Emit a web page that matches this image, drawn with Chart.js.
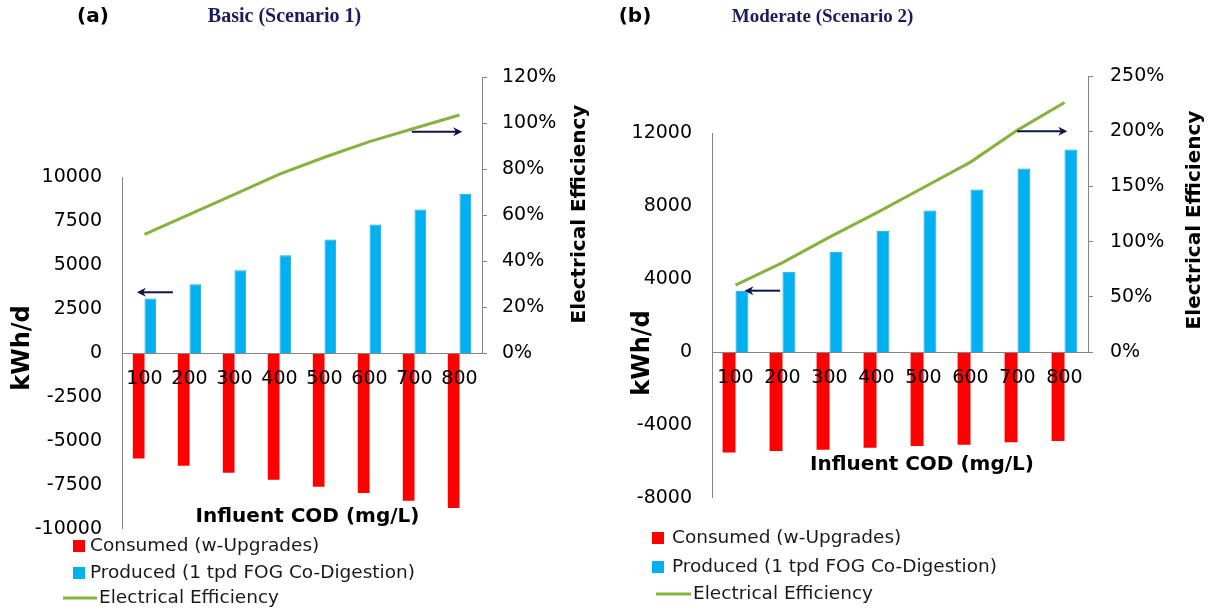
<!DOCTYPE html>
<html>
<head>
<meta charset="utf-8">
<title>Energy balance vs influent COD</title>
<script src="https://cdn.jsdelivr.net/npm/chart.js@4.4.1/dist/chart.umd.min.js"></script>
<style>
  html, body { margin: 0; padding: 0; background: #ffffff; }
  #wrap { position: relative; width: 1213px; height: 613px; overflow: hidden; }
  canvas { position: absolute; top: 0; }
  #chartA { left: 0; }
  #chartB { left: 606px; }
</style>
</head>
<body>
<div id="wrap">
  <canvas id="chartA" width="606" height="613"></canvas>
  <canvas id="chartB" width="607" height="613"></canvas>
</div>
<script>
// ---- data ----------------------------------------------------------------
// Influent COD levels (mg/L), shared by both scenarios
const codLevels = ['100', '200', '300', '400', '500', '600', '700', '800'];

// Scenario 1 - Basic
const consumedBasic   = [-6000, -6400, -6800, -7200, -7600, -7950, -8400, -8800];
const producedBasic   = [3100, 3900, 4700, 5550, 6450, 7300, 8150, 9050];
const efficiencyBasic = [51.6, 60.3, 69.0, 77.8, 85.1, 91.9, 97.7, 103.5];

// Scenario 2 - Moderate
const consumedModerate   = [-5500, -5420, -5350, -5250, -5150, -5080, -4950, -4880];
const producedModerate   = [3350, 4400, 5500, 6650, 7750, 8900, 10050, 11100];
const efficiencyModerate = [60.5, 81, 104, 126, 149, 172, 201, 226];

// Axis tick values
const energyTicksBasic     = [-10000, -7500, -5000, -2500, 0, 2500, 5000, 7500, 10000];
const percentTicksBasic    = [0, 20, 40, 60, 80, 100, 120];
const energyTicksModerate  = [-8000, -4000, 0, 4000, 8000, 12000];
const percentTicksModerate = [0, 50, 100, 150, 200, 250];

// Labels
const seriesNames = ['Consumed (w-Upgrades)', 'Produced (1 tpd FOG Co-Digestion)', 'Electrical Efficiency'];
const energyTitle = 'kWh/d';
const efficiencyTitle = 'Electrical Efficiency';
const codTitle = 'Influent COD (mg/L)';

// ---- styling -------------------------------------------------------------
const RED = '#ff0000';
const BLUE = '#00b0f0';
const GREEN = '#86b33e';
const NAVY = '#0e1547';
const HEAD_NAVY = '#1b1d5a';
const AXIS_GREY = '#858585';
const SANS = '"DejaVu Sans", "Noto Sans", sans-serif';
const SERIF = '"Liberation Serif", "DejaVu Serif", serif';

// ---- panel layouts (canvas-local pixels) ---------------------------------
const panels = [
  {
    canvas: 'chartA', width: 606, tag: '(a)', heading: 'Basic (Scenario 1)', headingSize: 20,
    consumed: consumedBasic, produced: producedBasic, efficiency: efficiencyBasic,
    energyTicks: energyTicksBasic, percentTicks: percentTicksBasic,
    area: { left: 122, right: 482, top: 77, bottom: 529 }, energyTopPx: 177,
    barShare: 0.52, rightPad: 15,
    tagPos: [93, 17], headingPos: [284.5, 17],
    energyTitlePos: [23, 348], efficiencyTitlePos: [580, 214], codTitlePos: [307.5, 517],
    legend: { box: 73, text: 90, lineFrom: 63, lineTo: 97, lineText: 99, rows: [546, 573, 598] },
    // arrows: which axis the height is read on, and category span (tail -> head)
    arrows: [
      { axis: 'y',  value: 3450, from: 0.63, to: -0.17 },
      { axis: 'y1', value: 96.2, from: 5.94, to: 7.06 }
    ]
  },
  {
    canvas: 'chartB', width: 607, tag: '(b)', heading: 'Moderate (Scenario 2)', headingSize: 19,
    consumed: consumedModerate, produced: producedModerate, efficiency: efficiencyModerate,
    energyTicks: energyTicksModerate, percentTicks: percentTicksModerate,
    area: { left: 106, right: 482, top: 76, bottom: 498 }, energyTopPx: 133,
    barShare: 0.55, rightPad: 17,
    tagPos: [29, 17], headingPos: [216.5, 17],
    energyTitlePos: [37, 353], efficiencyTitlePos: [589, 220], codTitlePos: [316, 465],
    legend: { box: 46, text: 66, lineFrom: 50, lineTo: 85, lineText: 87, rows: [538, 567, 594] },
    arrows: [
      { axis: 'y',  value: 3360, from: 0.95, to: 0.19 },
      { axis: 'y1', value: 200,  from: 5.99, to: 7.06 }
    ]
  }
];

// Axis extents: the energy axis reaches above its top tick and the percent
// axis reaches below 0% so both share one plot area.
function axisRanges(p) {
  const eMin = p.energyTicks[0];
  const eTop = p.energyTicks[p.energyTicks.length - 1];
  const span = p.area.bottom - p.area.top;
  const tickSpan = p.area.bottom - p.energyTopPx;
  const eMax = eMin + (eTop - eMin) * span / tickSpan;
  const zeroPx = p.area.bottom - (0 - eMin) / (eTop - eMin) * tickSpan;
  const pMax = p.percentTicks[p.percentTicks.length - 1];
  const pMin = -pMax * (p.area.bottom - zeroPx) / (zeroPx - p.area.top);
  return { eMin, eMax, pMin, pMax };
}

function drawArrow(ctx, x1, y, x2) {
  const dir = Math.sign(x2 - x1);
  const head = 9, half = 4.5;
  ctx.save();
  ctx.strokeStyle = NAVY; ctx.fillStyle = NAVY; ctx.lineWidth = 2;
  ctx.beginPath(); ctx.moveTo(x1, y); ctx.lineTo(x2 - dir * head * 0.6, y); ctx.stroke();
  ctx.beginPath();
  ctx.moveTo(x2, y);
  ctx.lineTo(x2 - dir * head, y - half);
  ctx.lineTo(x2 - dir * head * 0.7, y);
  ctx.lineTo(x2 - dir * head, y + half);
  ctx.closePath(); ctx.fill();
  ctx.restore();
}

function rotatedText(ctx, text, x, y, font) {
  ctx.save();
  ctx.translate(x, y); ctx.rotate(-Math.PI / 2);
  ctx.font = font; ctx.fillStyle = '#000'; ctx.textAlign = 'center'; ctx.textBaseline = 'middle';
  ctx.fillText(text, 0, 0);
  ctx.restore();
}

function makeDecor(p) {
  return {
    id: 'panelDecor',
    beforeDatasetsDraw(chart) {
      const { ctx, chartArea, scales } = chart;
      ctx.save();
      ctx.strokeStyle = AXIS_GREY; ctx.lineWidth = 1;
      // energy axis line, from lowest to highest tick
      const xl = Math.round(chartArea.left) + 0.5;
      ctx.beginPath();
      ctx.moveTo(xl, scales.y.getPixelForValue(p.energyTicks[0]));
      ctx.lineTo(xl, scales.y.getPixelForValue(p.energyTicks[p.energyTicks.length - 1]));
      ctx.stroke();
      // efficiency axis line, 0% to top tick
      const xr = Math.round(chartArea.right) + 0.5;
      ctx.beginPath();
      ctx.moveTo(xr, scales.y1.getPixelForValue(0));
      ctx.lineTo(xr, scales.y1.getPixelForValue(p.percentTicks[p.percentTicks.length - 1]));
      ctx.stroke();
      ctx.restore();
    },
    afterDatasetsDraw(chart) {
      const { ctx, scales } = chart;
      p.arrows.forEach(a => {
        const y = scales[a.axis].getPixelForValue(a.value);
        drawArrow(ctx, scales.x.getPixelForValue(a.from), y, scales.x.getPixelForValue(a.to));
      });
    },
    afterDraw(chart) {
      const { ctx } = chart;
      ctx.save();
      // panel tag and heading
      ctx.textBaseline = 'middle'; ctx.textAlign = 'center';
      ctx.fillStyle = '#000'; ctx.font = 'bold 20px ' + SANS;
      ctx.fillText(p.tag, p.tagPos[0], p.tagPos[1]);
      ctx.fillStyle = HEAD_NAVY; ctx.font = 'bold ' + p.headingSize + 'px ' + SERIF;
      ctx.fillText(p.heading, p.headingPos[0], p.headingPos[1]);
      // axis titles
      rotatedText(ctx, energyTitle, p.energyTitlePos[0], p.energyTitlePos[1], 'bold 24px ' + SANS);
      rotatedText(ctx, efficiencyTitle, p.efficiencyTitlePos[0], p.efficiencyTitlePos[1], 'bold 20px ' + SANS);
      ctx.fillStyle = '#000'; ctx.font = 'bold 20px ' + SANS; ctx.textAlign = 'center';
      ctx.fillText(codTitle, p.codTitlePos[0], p.codTitlePos[1]);
      // legend
      const L = p.legend;
      ctx.font = '18.5px ' + SANS; ctx.textAlign = 'left'; ctx.fillStyle = '#1a1a1a';
      chart.data.datasets.forEach((ds, i) => {
        const y = L.rows[i];
        if (ds.type === 'line') {
          ctx.strokeStyle = ds.borderColor; ctx.lineWidth = 3;
          ctx.beginPath(); ctx.moveTo(L.lineFrom, y); ctx.lineTo(L.lineTo, y); ctx.stroke();
          ctx.fillStyle = '#1a1a1a';
          ctx.fillText(ds.label, L.lineText, y);
        } else {
          ctx.fillStyle = ds.backgroundColor;
          ctx.fillRect(L.box, y - 6, 12, 12);
          ctx.fillStyle = '#1a1a1a';
          ctx.fillText(ds.label, L.text, y);
        }
      });
      ctx.restore();
    }
  };
}

function build(p) {
  const r = axisRanges(p);
  const tickFont = { family: SANS, size: 19 };
  return new Chart(document.getElementById(p.canvas), {
    type: 'bar',
    data: {
      labels: codLevels,
      datasets: [
        { label: seriesNames[0], data: p.consumed, backgroundColor: RED, yAxisID: 'y', order: 1,
          categoryPercentage: p.barShare, barPercentage: 1 },
        { label: seriesNames[1], data: p.produced, backgroundColor: BLUE, borderColor: '#1ba3dc', borderWidth: 1,
          yAxisID: 'y', order: 1, categoryPercentage: p.barShare, barPercentage: 1 },
        { label: seriesNames[2], type: 'line', data: p.efficiency, borderColor: GREEN, borderWidth: 3,
          pointRadius: 0, tension: 0, fill: false, yAxisID: 'y1', order: 0 }
      ]
    },
    options: {
      responsive: false,
      animation: false,
      devicePixelRatio: 1,
      layout: { padding: { left: 0, right: 0, top: p.area.top, bottom: 613 - p.area.bottom } },
      plugins: { legend: { display: false }, tooltip: { enabled: false }, title: { display: false } },
      scales: {
        x: {
          position: { y: 0 }, offset: true,
          grid: { display: true, drawOnChartArea: false, drawTicks: false },
          border: { display: true, color: AXIS_GREY, width: 1, z: 1 },
          ticks: { z: 1, padding: 15, color: '#000', font: tickFont, maxRotation: 0, autoSkip: false }
        },
        y: {
          position: 'left', min: r.eMin, max: r.eMax,
          afterBuildTicks: s => { s.ticks = p.energyTicks.map(v => ({ value: v })); },
          afterFit: s => { s.width = p.area.left; },
          grid: { display: false, drawTicks: false },
          border: { display: false },
          ticks: { padding: 20, color: '#000', font: tickFont, callback: v => String(v) }
        },
        y1: {
          position: 'right', min: r.pMin, max: r.pMax,
          afterBuildTicks: s => { s.ticks = p.percentTicks.map(v => ({ value: v })); },
          afterFit: s => { s.width = p.width - p.area.right; },
          grid: { display: true, drawOnChartArea: false, drawTicks: true, tickLength: 5, color: AXIS_GREY },
          border: { display: false },
          ticks: { padding: p.rightPad, color: '#000', font: tickFont, callback: v => v + '%' }
        }
      }
    },
    plugins: [makeDecor(p)]
  });
}

panels.forEach(build);
</script>
</body>
</html>
